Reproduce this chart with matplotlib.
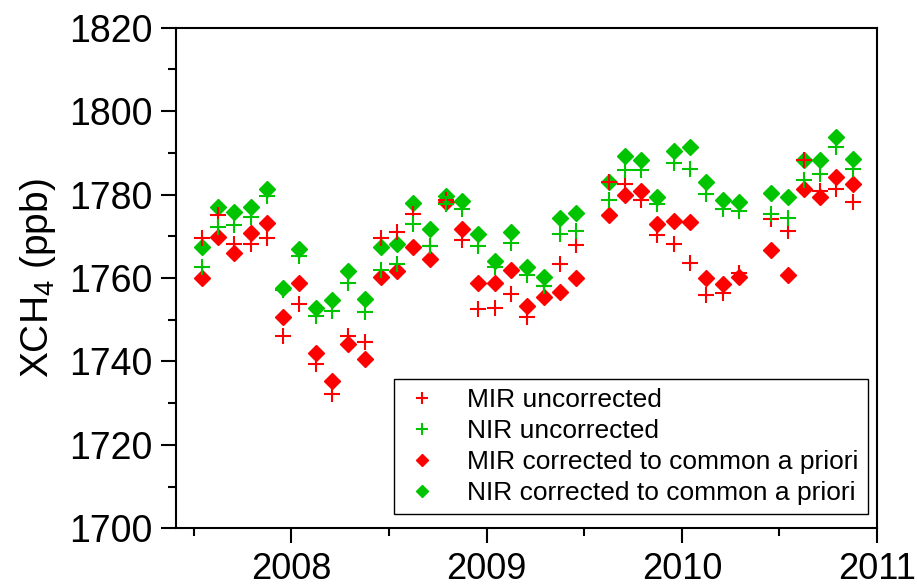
import numpy as np
import matplotlib
matplotlib.use("Agg")
import matplotlib.pyplot as plt
from matplotlib.ticker import MultipleLocator

plt.rcParams["font.family"] = ["Liberation Sans", "DejaVu Sans"]
plt.rcParams["mathtext.default"] = "regular"

# monthly means (year, month)
months = ["2007-07", "2007-08", "2007-09", "2007-10", "2007-11", "2007-12",
          "2008-01", "2008-02", "2008-03", "2008-04", "2008-05", "2008-06",
          "2008-07", "2008-08", "2008-09", "2008-10", "2008-11", "2008-12",
          "2009-01", "2009-02", "2009-03", "2009-04", "2009-05", "2009-06",
          "2009-08", "2009-09", "2009-10", "2009-11", "2009-12",
          "2010-01", "2010-02", "2010-03", "2010-04",
          "2010-06", "2010-07", "2010-08", "2010-09", "2010-10", "2010-11"]

mir_uncorr = [1769.7, 1775.0, 1768.1, 1768.2, 1769.5, 1746.2,
              1753.8, 1739.3, 1732.2, 1746.0, 1744.7, 1769.7,
              1771.1, 1775.4, 1767.7, 1778.8, 1769.1, 1752.5,
              1752.9, 1756.2, 1750.6, 1758.1, 1763.4, 1767.9,
              1782.9, 1782.6, 1778.8, 1770.3, 1768.1,
              1763.5, 1755.8, 1756.5, 1761.3,
              1774.2, 1771.3, 1788.2, 1780.9, 1781.3, 1778.3]
nir_uncorr = [1762.7, 1772.1, 1772.6, 1774.5, 1779.7, 1757.2,
              1765.3, 1750.9, 1752.1, 1758.7, 1751.9, 1762.0,
              1763.4, 1773.0, 1767.7, 1777.7, 1776.5, 1767.7,
              1762.7, 1768.5, 1760.7, 1758.1, 1770.5, 1771.3,
              1778.7, 1785.8, 1785.8, 1777.8, 1787.5,
              1786.2, 1780.1, 1776.6, 1776.1,
              1775.3, 1774.3, 1783.5, 1785.0, 1791.3, 1786.1]
mir_corr = [1760.1, 1769.8, 1766.0, 1770.7, 1773.1, 1750.6,
            1758.7, 1742.1, 1735.4, 1744.2, 1740.6, 1760.3,
            1761.6, 1767.4, 1764.6, 1778.2, 1771.8, 1758.9,
            1758.9, 1761.9, 1753.4, 1755.4, 1756.7, 1760.0,
            1775.0, 1779.9, 1780.9, 1773.0, 1773.7,
            1773.3, 1760.1, 1758.5, 1760.2,
            1766.7, 1760.8, 1781.3, 1779.3, 1784.1, 1782.5]
nir_corr = [1767.5, 1777.1, 1775.9, 1776.9, 1781.3, 1757.7,
            1766.9, 1752.7, 1754.6, 1761.7, 1755.0, 1767.4,
            1768.2, 1777.9, 1771.7, 1779.7, 1778.5, 1770.5,
            1764.1, 1771.0, 1762.7, 1760.2, 1774.3, 1775.5,
            1783.0, 1789.2, 1788.2, 1779.3, 1790.5,
            1791.3, 1782.9, 1778.7, 1778.3,
            1780.3, 1779.3, 1788.2, 1788.2, 1793.7, 1788.6]

labels = ["MIR uncorrected", "NIR uncorrected",
          "MIR corrected to common a priori", "NIR corrected to common a priori"]

RED = "#FF0000"
GREEN = "#00C400"

# decimal year at mid-month
t = np.array([int(m[:4]) + (int(m[5:]) - 0.5) / 12 for m in months])

fig = plt.figure(figsize=(9.17, 5.86), dpi=100)
ax = fig.add_axes([0.192, 0.0985, 0.7645, 0.8543])

h_mc, = ax.plot(t, mir_corr, ls="none", marker="D", ms=8, color=RED, mec=RED)
h_nc, = ax.plot(t, nir_corr, ls="none", marker="D", ms=8, color=GREEN, mec=GREEN)
h_mu, = ax.plot(t, mir_uncorr, ls="none", marker="+", ms=11, mew=1.5, color=RED)
h_nu, = ax.plot(t, nir_uncorr, ls="none", marker="+", ms=11, mew=1.5, color=GREEN)

ax.set_xlim(2007.41, 2011.0)
ax.set_ylim(1700, 1820)
ax.xaxis.set_major_locator(MultipleLocator(1))
ax.xaxis.set_minor_locator(MultipleLocator(0.5))
ax.yaxis.set_major_locator(MultipleLocator(20))
ax.yaxis.set_minor_locator(MultipleLocator(10))
ax.xaxis.set_major_formatter(plt.FuncFormatter(lambda v, p: f"{int(round(v))}"))

ax.tick_params(which="both", direction="out", width=1.5,
               top=False, right=False)
ax.tick_params(axis="y", which="major", length=11, pad=6, labelsize=27)
ax.tick_params(axis="x", which="major", length=11, pad=6, labelsize=26)
ax.tick_params(which="minor", length=6)
for s in ax.spines.values():
    s.set_linewidth(1.5)

ax.set_ylabel("XCH$_4$ (ppb)", fontsize=28, labelpad=8)

leg = ax.legend([h_mu, h_nu, h_mc, h_nc], labels, loc="lower right",
                bbox_to_anchor=(0.994, 0.018), fontsize=19, frameon=True,
                fancybox=False, edgecolor="black", framealpha=1,
                handlelength=1.4, handletextpad=1.0, labelspacing=0.26,
                borderpad=0.35, borderaxespad=0.2, markerscale=0.75)
leg.get_frame().set_linewidth(1.0)

fig.savefig("out.png", dpi=100)
